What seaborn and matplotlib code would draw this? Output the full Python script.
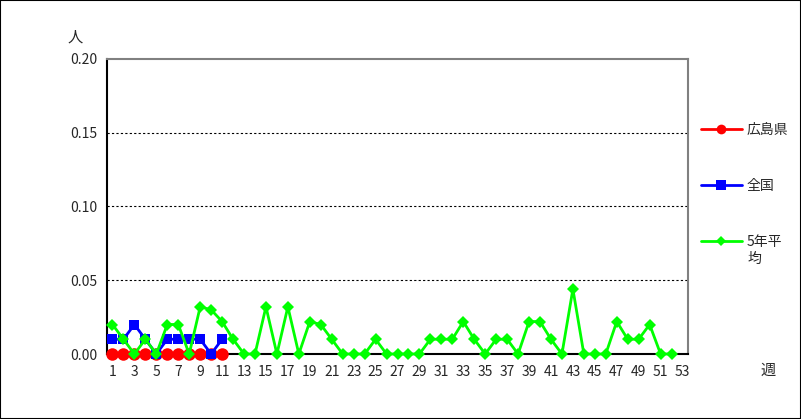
import numpy as np
import pandas as pd
import seaborn as sns
import matplotlib.pyplot as plt
from matplotlib.lines import Line2D
from matplotlib.patches import Rectangle

weeks = list(range(1, 54))
hiroshima_weeks = list(range(1, 12))
hiroshima = [0, 0, 0, 0, 0, 0, 0, 0, 0, 0, 0]
national_weeks = list(range(1, 12))
national = [0.01, 0.01, 0.02, 0.01, 0, 0.01, 0.01, 0.01, 0.01, 0, 0.01]
avg_weeks = list(range(1, 53))
avg5 = [0.02, 0.01, 0, 0.01, 0, 0.02, 0.02, 0, 0.032, 0.03,
        0.022, 0.01, 0, 0, 0.032, 0, 0.032, 0, 0.022, 0.02,
        0.01, 0, 0, 0, 0.01, 0, 0, 0, 0, 0.01,
        0.01, 0.01, 0.022, 0.01, 0, 0.01, 0.01, 0, 0.022, 0.022,
        0.01, 0, 0.044, 0, 0, 0, 0.022, 0.01, 0.01, 0.02,
        0, 0]
labels = ['広島県', '全国', '5年平']
label_wrap = '均'  # second line of the 5年平均 legend label

sns.set_style('white')
plt.rcParams['font.family'] = ['Noto Sans CJK JP', 'DejaVu Sans']

fig = plt.figure(figsize=(8.01, 4.19), dpi=100)
ax = fig.add_axes([107 / 801, 1 - 354 / 419, 581 / 801, 295 / 419])

sns.lineplot(x=hiroshima_weeks, y=hiroshima, ax=ax, color='#FF0000', marker='o',
             markersize=9, markeredgewidth=0, linewidth=2, zorder=3, clip_on=False)
sns.lineplot(x=national_weeks, y=national, ax=ax, color='#0000FF', marker='s',
             markersize=7, markeredgewidth=0, linewidth=2, zorder=4, clip_on=False)
sns.lineplot(x=avg_weeks, y=avg5, ax=ax, color='#00FF00', marker='D',
             markersize=6.5, markeredgewidth=0, linewidth=2, zorder=5, clip_on=False)

ax.set_xlim(0.5, 53.5)
ax.set_ylim(0, 0.2)
ax.set_yticks([0, 0.05, 0.10, 0.15, 0.20])
ax.set_yticklabels(['0.00', '0.05', '0.10', '0.15', '0.20'])
ax.set_xticks(weeks[::2])
ax.set_xticklabels([str(w) for w in weeks[::2]])
ax.set_xticks(np.arange(0.5, 54, 1), minor=True)
ax.tick_params(axis='x', which='major', length=0, labelsize=10, pad=8)
ax.tick_params(axis='x', which='minor', direction='in', length=5, width=1, color='black')
ax.tick_params(axis='y', length=0, labelsize=10, pad=7)
for y in [0.05, 0.10, 0.15]:
    ax.axhline(y, color='black', linestyle=(0, (2, 2)), linewidth=0.8, zorder=1)

ax.spines['left'].set_color('black')
ax.spines['bottom'].set_color('black')
ax.spines['top'].set_color('#808080')
ax.spines['right'].set_color('#808080')
for s in ax.spines.values():
    s.set_linewidth(1.5)

fig.text(75 / 801, 1 - 37 / 419, '人', fontsize=11, ha='center', va='center')
fig.text(768 / 801, 1 - 370 / 419, '週', fontsize=11, ha='center', va='center')

handles = [
    Line2D([], [], color='#FF0000', marker='o', markersize=7, markeredgewidth=0, linewidth=2),
    Line2D([], [], color='#0000FF', marker='s', markersize=7, markeredgewidth=0, linewidth=2),
    Line2D([], [], color='#00FF00', marker='D', markersize=5, markeredgewidth=0, linewidth=2),
]
fig.legend(handles, labels, loc='upper left', bbox_to_anchor=(695 / 801, 1 - 117 / 419),
           frameon=False, fontsize=10, labelspacing=3.05, handlelength=3,
           handletextpad=0.3, borderaxespad=0)
fig.text(748 / 801, 1 - 259 / 419, label_wrap, fontsize=10, ha='left', va='center')

fig.patches.append(Rectangle((0, 0), 1, 1, transform=fig.transFigure, fill=False,
                             edgecolor='black', linewidth=1.5))

fig.savefig('out.png', dpi=100)
